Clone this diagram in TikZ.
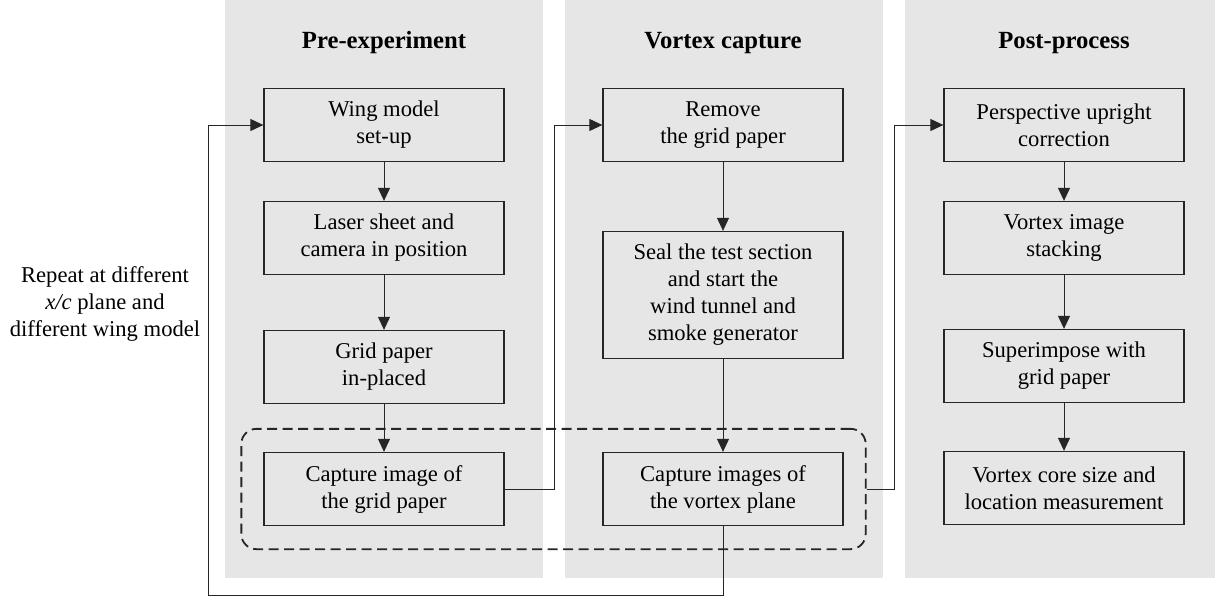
\documentclass[tikz,border=0pt]{standalone}
\usepackage{fontspec}
\setmainfont{Liberation Serif}
\usetikzlibrary{arrows.meta,fit}
\definecolor{panelgray}{RGB}{230,230,230}
\definecolor{inkgray}{RGB}{38,38,38}

\begin{document}
\begin{tikzpicture}[x=1pt,y=-1pt,
  procbox/.style={draw=inkgray,line width=1.3pt,fill=panelgray,minimum width=240pt,
    minimum height=73pt,align=center,inner sep=0pt,font=\fontsize{22.6}{27}\selectfont},
  coltitle/.style={font=\fontsize{24.7}{29}\selectfont\bfseries},
  flow/.style={draw=inkgray,line width=1pt,-{Triangle[length=13pt,width=12pt]}},
  wire/.style={draw=inkgray,line width=1pt}]
  \useasboundingbox (0,0) rectangle (1215,598);
  % background panels
  \fill[panelgray] (225,0) rectangle (543,578);
  \fill[panelgray] (565,0) rectangle (883,578);
  \fill[panelgray] (905,0) rectangle (1215,578);

  \node[coltitle] (pre)  at (384,43)  {Pre-experiment};
  \node[coltitle] (vcap) at (723,43)  {Vortex capture};
  \node[coltitle] (post) at (1064,43) {Post-process};

  % pre-experiment
  \node[procbox] (wing)    at (384,125) {Wing model\\set-up};
  \node[procbox] (laser)   at (384,238) {Laser sheet and\\camera in position};
  \node[procbox] (grid)    at (384,367) {Grid paper\\in-placed};
  \node[procbox] (capgrid) at (384,489) {Capture image of\\the grid paper};
  % vortex capture
  \node[procbox] (remove)    at (723,125) {Remove\\the grid paper};
  \node[procbox,minimum height=127pt] (seal) at (723,295)
    {Seal the test section\\and start the\\wind tunnel and\\smoke generator};
  \node[procbox] (capvortex) at (723,489) {Capture images of\\the vortex plane};
  % post-process
  \node[procbox] (persp)    at (1064,125) {Perspective upright\\correction};
  \node[procbox] (stack)    at (1064,238) {Vortex image\\stacking};
  \node[procbox] (superimp) at (1064,366) {Superimpose with\\grid paper};
  \node[procbox] (core)     at (1064,488) {Vortex core size and\\location measurement};

  \node[font=\fontsize{22.6}{27}\selectfont,align=center] (repeat) at (105,304)
    {Repeat at different\\\textit{x/c} plane and\\different wing model};

  % capture group
  \node[draw=inkgray,dash pattern=on 10pt off 5.5pt,line width=1.8pt,rounded corners=15pt,
    fit=(capgrid)(capvortex),inner xsep=22pt,inner ysep=23pt] (capture) {};

  \draw[flow] (wing) -- (laser);
  \draw[flow] (laser) -- (grid);
  \draw[flow] (grid) -- (capgrid);
  \draw[flow] (remove) -- (seal);
  \draw[flow] (seal) -- (capvortex);
  \draw[flow] (persp) -- (stack);
  \draw[flow] (stack) -- (superimp);
  \draw[flow] (superimp) -- (core);

  \draw[flow] (capgrid.east) -- ++(50,0) |- (remove.west);
  \draw[flow] (capture.east) -- ++(28,0) |- (persp.west);
  \coordinate (back) at (208,595);
  \draw[flow] (capvortex.south) |- (back) |- (wing.west);
\end{tikzpicture}
\end{document}
